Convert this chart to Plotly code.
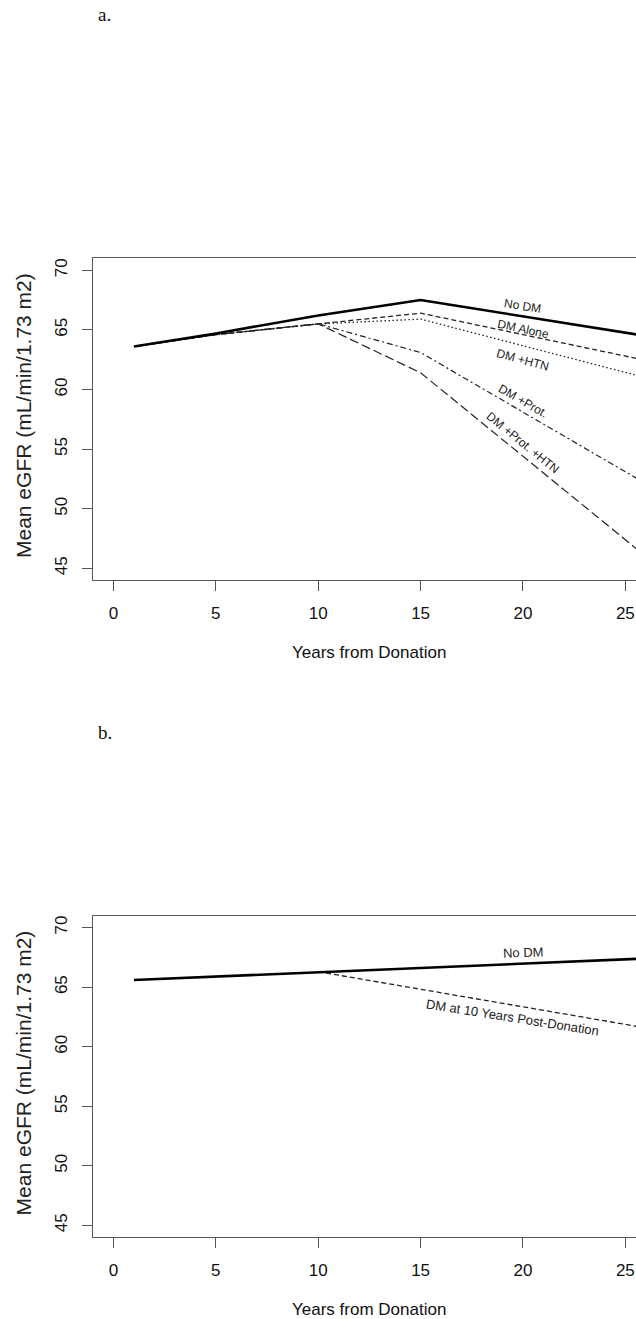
import plotly.graph_objects as go

# ---------------- data ----------------
years_a = [1, 5, 10, 15, 30]
no_dm_a = [63.6, 64.7, 66.2, 67.5, 63.4]
dm_alone = [63.6, 64.6, 65.5, 66.4, 61.0]
dm_htn = [63.6, 64.6, 65.5, 65.9, 59.2]
dm_prot = [63.6, 64.6, 65.5, 63.1, 48.1]
dm_prot_htn = [63.6, 64.6, 65.5, 61.4, 40.4]

years_b_nodm = [1, 30]
no_dm_b = [65.6, 67.7]
years_b_dm10 = [10, 30]
dm10_b = [66.3, 60.4]

x_ticks = [0, 5, 10, 15, 20, 25]
y_ticks = [45, 50, 55, 60, 65, 70]

# labels: (text, x, y, angle)
labels_a = [
    ("No DM", 20, 67.0, 9),
    ("DM Alone", 20, 65.05, 12),
    ("DM +HTN", 20, 62.5, 15),
    ("DM +Prot.", 20, 59.05, 30),
    ("DM +Prot. +HTN", 20, 55.5, 39),
]
labels_b = [
    ("No DM", 20, 67.9, -2),
    ("DM at 10 Years Post-Donation", 19.5, 62.45, 9),
]

W, H = 636, 1319
AX_COLOR = "#555555"
LINE_COLOR = "#222222"
FONT = "Liberation Sans, Arial, sans-serif"

fig = go.Figure()

def add_line(x, y, xa, ya, width, dash):
    fig.add_trace(go.Scatter(
        x=x, y=y, mode="lines", xaxis=xa, yaxis=ya,
        line=dict(color=LINE_COLOR if width < 2 else "#000000", width=width, dash=dash),
        showlegend=False, hoverinfo="skip"))

add_line(years_a, dm_prot_htn, "x", "y", 1.2, "9px,4px")
add_line(years_a, dm_prot, "x", "y", 1.2, "2px,3px,6px,3px")
add_line(years_a, dm_htn, "x", "y", 1.3, "1.5px,2.5px")
add_line(years_a, dm_alone, "x", "y", 1.3, "5px,3px")
add_line(years_a, no_dm_a, "x", "y", 2.6, "solid")

add_line(years_b_dm10, dm10_b, "x2", "y2", 1.3, "5px,3px")
add_line(years_b_nodm, no_dm_b, "x2", "y2", 2.6, "solid")

x_dom = [93 / W, 1.0]
ya_dom = [1 - 580.3 / H, 1 - 258.3 / H]
yb_dom = [1 - 1237.3 / H, 1 - 915.7 / H]

xcommon = dict(range=[-1, 25.52], tickmode="array", tickvals=x_ticks,
               ticks="outside", ticklen=10, tickwidth=1.2, tickcolor=AX_COLOR,
               showline=True, linecolor=AX_COLOR, linewidth=1.3, mirror=True,
               showgrid=False, zeroline=False, domain=x_dom,
               tickfont=dict(family=FONT, size=17, color="#111111"),
               ticklabelstandoff=7)
ycommon = dict(range=[44, 71], tickmode="array", tickvals=y_ticks,
               ticks="outside", ticklen=10, tickwidth=1.2, tickcolor=AX_COLOR,
               showline=True, linecolor=AX_COLOR, linewidth=1.3, mirror=False,
               showgrid=False, zeroline=False, tickangle=-90,
               tickfont=dict(family=FONT, size=17, color="#111111"),
               ticklabelstandoff=8)

fig.update_layout(
    width=W, height=H, margin=dict(l=0, r=0, t=0, b=0),
    paper_bgcolor="white", plot_bgcolor="white",
    xaxis=dict(**xcommon, anchor="y"),
    yaxis=dict(**ycommon, domain=ya_dom, anchor="x"),
    xaxis2=dict(**xcommon, anchor="y2"),
    yaxis2=dict(**ycommon, domain=yb_dom, anchor="x2"),
)

ann = []
for (t, x, y, a) in labels_a:
    ann.append(dict(text=t, x=x, y=y, xref="x", yref="y", showarrow=False,
                    textangle=a, font=dict(family=FONT, size=12, color="#222222")))
for (t, x, y, a) in labels_b:
    ann.append(dict(text=t, x=x, y=y, xref="x2", yref="y2", showarrow=False,
                    textangle=a, font=dict(family=FONT, size=13, color="#222222")))

def px_x(p):
    return p / W

def px_y(p):
    return 1 - p / H

xt_font = dict(family=FONT, size=17, color="#111111")
yt_font = dict(family=FONT, size=21, color="#222222")
for top in (0, 657.4):
    ann.append(dict(text="Years from Donation", x=px_x(368.8), y=px_y(652 + top),
                    xref="paper", yref="paper", showarrow=False,
                    xanchor="center", yanchor="middle", font=xt_font))
    ann.append(dict(text="Mean eGFR (mL/min/1.73 m2)", x=px_x(23), y=px_y(416 + top),
                    xref="paper", yref="paper", showarrow=False, textangle=-90,
                    xanchor="center", yanchor="middle", font=yt_font))

serif = dict(family="Liberation Serif, Times New Roman, serif", size=19, color="#111111")
ann.append(dict(text="a.", x=px_x(96), y=px_y(14), xref="paper", yref="paper",
                showarrow=False, xanchor="left", yanchor="middle", font=serif))
ann.append(dict(text="b.", x=px_x(96), y=px_y(732), xref="paper", yref="paper",
                showarrow=False, xanchor="left", yanchor="middle", font=serif))

fig.update_layout(annotations=ann)
fig.write_html("out.html")
